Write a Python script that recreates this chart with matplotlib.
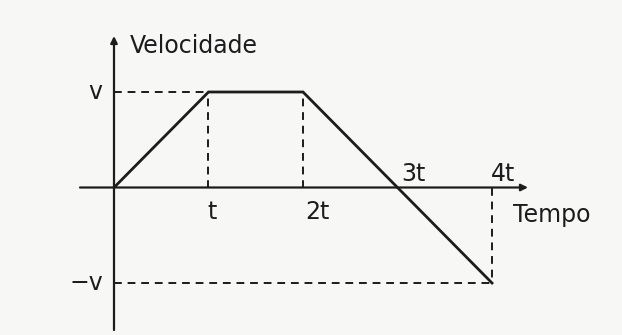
import matplotlib.pyplot as plt

# velocity graph: times in units of t, velocity in units of v
tempo = [0, 1, 2, 3, 4]
velocidade = [0, 1, 1, 0, -1]
rotulos_x = ['t', '2t', '3t', '4t']
rotulos_y = ['v', '\u2212v']

cor = '#1c1c1c'
fundo = '#f7f7f5'

fig = plt.figure(figsize=(6.22, 3.35), dpi=100, facecolor=fundo)
ax = fig.add_axes([0, 0, 1, 1])
ax.set_facecolor(fundo)

# pixel-based mapping of the original picture
x0, sx = 114, 94.5
y0, sy = 187.5, 95.5
ax.set_xlim(-x0 / sx, (622 - x0) / sx)
ax.set_ylim((y0 - 335) / sy, y0 / sy)
ax.axis('off')

def px(x):
    return (x - x0) / sx

def py(y):
    return (y0 - y) / sy

# axes with arrows
ax.annotate('', xy=(0, py(36)), xytext=(0, py(330)),
            arrowprops=dict(arrowstyle='-|>', color=cor, lw=1.6,
                            mutation_scale=10, shrinkA=0, shrinkB=0))
ax.annotate('', xy=(px(528), 0), xytext=(px(80), 0),
            arrowprops=dict(arrowstyle='-|>', color=cor, lw=1.6,
                            mutation_scale=10, shrinkA=0, shrinkB=0))

# dashed guide lines
tr = dict(color=cor, lw=1.4, ls=(0, (4, 3)))
ax.plot([0, tempo[1]], [velocidade[1], velocidade[1]], **tr)
ax.plot([tempo[1], tempo[1]], [0, velocidade[1]], **tr)
ax.plot([tempo[2], tempo[2]], [0, velocidade[2]], **tr)
ax.plot([tempo[4], tempo[4]], [0, velocidade[4]], **tr)
ax.plot([0, tempo[4]], [velocidade[4], velocidade[4]], **tr)

# the graph itself
ax.plot(tempo, velocidade, color=cor, lw=2.0, solid_joinstyle='miter')

fs = 17
kw = dict(fontsize=fs, color=cor, ha='center', va='center')
ax.text(px(130), py(46), 'Velocidade', fontsize=fs, color=cor,
        ha='left', va='center')
ax.text(px(552), py(215), 'Tempo', **kw)
ax.text(px(95), velocidade[1], rotulos_y[0], **kw)
ax.text(px(86), velocidade[4], rotulos_y[1], **kw)
ax.text(px(212), py(212), rotulos_x[0], **kw)
ax.text(px(317), py(212), rotulos_x[1], **kw)
ax.text(px(413), py(174), rotulos_x[2], **kw)
ax.text(px(503), py(174), rotulos_x[3], **kw)

fig.savefig('out.png', dpi=100, facecolor=fundo)
